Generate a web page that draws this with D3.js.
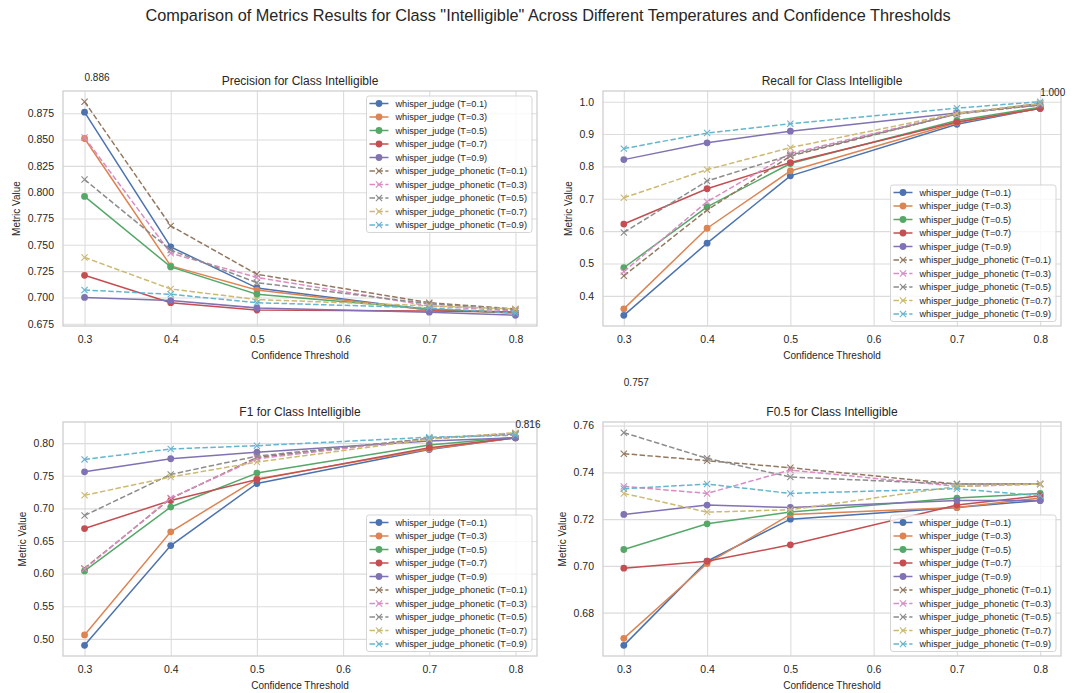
<!DOCTYPE html>
<html>
<head>
<meta charset="utf-8">
<script src="https://cdn.jsdelivr.net/npm/d3@7"></script>
<style>
  body { margin: 0; background: white; }
  svg text { font-family: "Liberation Sans", Arial, sans-serif; fill: #262626; }
</style>
</head>
<body>
<svg id="chart"></svg>
<script>
// Confidence thresholds on the x axis
var thresholds = [0.3, 0.4, 0.5, 0.7, 0.8];
var xTicks = [0.3, 0.4, 0.5, 0.6, 0.7, 0.8];

var seriesNames = [
    "whisper_judge (T=0.1)", "whisper_judge (T=0.3)", "whisper_judge (T=0.5)",
    "whisper_judge (T=0.7)", "whisper_judge (T=0.9)",
    "whisper_judge_phonetic (T=0.1)", "whisper_judge_phonetic (T=0.3)", "whisper_judge_phonetic (T=0.5)",
    "whisper_judge_phonetic (T=0.7)", "whisper_judge_phonetic (T=0.9)"
];

// one row per series, one value per threshold
var precision = [
    [0.876, 0.748, 0.709, 0.688, 0.686],
    [0.851, 0.730, 0.707, 0.688, 0.686],
    [0.796, 0.729, 0.703, 0.689, 0.685],
    [0.721, 0.695, 0.688, 0.687, 0.686],
    [0.700, 0.697, 0.690, 0.686, 0.683],
    [0.886, 0.768, 0.722, 0.695, 0.689],
    [0.852, 0.742, 0.719, 0.692, 0.687],
    [0.812, 0.745, 0.714, 0.694, 0.688],
    [0.738, 0.708, 0.698, 0.692, 0.689],
    [0.707, 0.703, 0.695, 0.690, 0.685]
];
var recall = [
    [0.340, 0.563, 0.771, 0.930, 0.980],
    [0.360, 0.609, 0.786, 0.935, 0.980],
    [0.487, 0.675, 0.809, 0.942, 0.983],
    [0.622, 0.731, 0.812, 0.937, 0.979],
    [0.821, 0.873, 0.909, 0.965, 0.990],
    [0.462, 0.665, 0.832, 0.962, 0.990],
    [0.475, 0.691, 0.840, 0.963, 0.993],
    [0.596, 0.755, 0.835, 0.962, 0.995],
    [0.703, 0.790, 0.858, 0.964, 0.995],
    [0.855, 0.903, 0.932, 0.980, 1.000]
];
var f1 = [
    [0.490, 0.643, 0.738, 0.790, 0.808],
    [0.506, 0.664, 0.745, 0.791, 0.808],
    [0.604, 0.702, 0.754, 0.797, 0.809],
    [0.669, 0.712, 0.744, 0.793, 0.808],
    [0.756, 0.776, 0.786, 0.803, 0.808],
    [0.608, 0.715, 0.778, 0.807, 0.815],
    [0.607, 0.716, 0.776, 0.807, 0.814],
    [0.689, 0.752, 0.780, 0.807, 0.814],
    [0.720, 0.748, 0.771, 0.806, 0.816],
    [0.775, 0.791, 0.796, 0.809, 0.812]
];
var f05 = [
    [0.666, 0.702, 0.720, 0.725, 0.728],
    [0.669, 0.701, 0.722, 0.725, 0.729],
    [0.707, 0.718, 0.723, 0.729, 0.731],
    [0.699, 0.702, 0.709, 0.726, 0.730],
    [0.722, 0.726, 0.725, 0.728, 0.728],
    [0.748, 0.745, 0.742, 0.735, 0.735],
    [0.734, 0.731, 0.741, 0.734, 0.735],
    [0.757, 0.746, 0.738, 0.735, 0.735],
    [0.731, 0.723, 0.724, 0.734, 0.735],
    [0.733, 0.735, 0.731, 0.733, 0.730]
];

// y tick values per panel
var precisionTicks = [0.675, 0.700, 0.725, 0.750, 0.775, 0.800, 0.825, 0.850, 0.875];
var recallTicks = [0.4, 0.5, 0.6, 0.7, 0.8, 0.9, 1.0];
var f1Ticks = [0.50, 0.55, 0.60, 0.65, 0.70, 0.75, 0.80];
var f05Ticks = [0.68, 0.70, 0.72, 0.74, 0.76];

// seaborn "deep" palette
var colors = ["#4C72B0", "#DD8452", "#55A868", "#C44E52", "#8172B3",
              "#937860", "#DA8BC3", "#8C8C8C", "#CCB974", "#64B5CD"];

var W = 1078, H = 693;
var svg = d3.select("#chart").attr("width", W).attr("height", H);
svg.append("rect").attr("width", W).attr("height", H).attr("fill", "white");

svg.append("text")
    .attr("x", 548).attr("y", 21)
    .attr("text-anchor", "middle")
    .style("font-size", "16.3px")
    .text('Comparison of Metrics Results for Class "Intelligible" Across Different Temperatures and Confidence Thresholds');

var panels = [
    { title: "Precision for Class Intelligible", values: precision, ticks: precisionTicks, fmt: ".3f",
      left: 63, right: 537, top: 91, bottom: 326, legend: "upper", annDy: -20.5 },
    { title: "Recall for Class Intelligible", values: recall, ticks: recallTicks, fmt: ".1f",
      left: 603, right: 1061, top: 91, bottom: 326, legend: "lower", annDy: -6 },
    { title: "F1 for Class Intelligible", values: f1, ticks: f1Ticks, fmt: ".2f",
      left: 63, right: 537, top: 422, bottom: 656, legend: "lower", annDy: -4.5 },
    { title: "F0.5 for Class Intelligible", values: f05, ticks: f05Ticks, fmt: ".2f",
      left: 603, right: 1061, top: 422, bottom: 656, legend: "lower", annDy: -46.5 }
];

function drawMarker(g, i, cx, cy) {
    if (i < 5) {
        g.append("circle").attr("cx", cx).attr("cy", cy).attr("r", 3.4).attr("fill", colors[i]);
    } else {
        var s = 3.1;
        g.append("path")
            .attr("d", "M" + (cx - s) + "," + (cy - s) + "L" + (cx + s) + "," + (cy + s) +
                       "M" + (cx - s) + "," + (cy + s) + "L" + (cx + s) + "," + (cy - s))
            .attr("stroke", colors[i]).attr("stroke-width", 1.1).attr("fill", "none");
    }
}

function drawPanel(p) {
    var h = p.bottom - p.top, w = p.right - p.left;
    var x = d3.scaleLinear().domain([0.275, 0.825]).range([p.left, p.right]);
    var ext = d3.extent(p.values.flat());
    var pad = (ext[1] - ext[0]) * 0.05;
    var y = d3.scaleLinear().domain([ext[0] - pad, ext[1] + pad]).range([p.bottom, p.top]);

    var g = svg.append("g");

    // grid lines
    var gx = g.append("g")
        .attr("transform", "translate(0," + p.bottom + ")")
        .call(d3.axisBottom(x).tickValues(xTicks).tickSize(-h).tickFormat(""));
    var gy = g.append("g")
        .attr("transform", "translate(" + p.left + ",0)")
        .call(d3.axisLeft(y).tickValues(p.ticks).tickSize(-w).tickFormat(""));
    [gx, gy].forEach(function (a) {
        a.select(".domain").remove();
        a.selectAll("line").attr("stroke", "#dcdcdc").attr("stroke-width", 1.1);
    });

    // frame
    g.append("rect")
        .attr("x", p.left).attr("y", p.top).attr("width", w).attr("height", h)
        .attr("fill", "none").attr("stroke", "#cfcfcf").attr("stroke-width", 1.3);

    // tick labels
    var ax = g.append("g")
        .attr("transform", "translate(0," + p.bottom + ")")
        .call(d3.axisBottom(x).tickValues(xTicks).tickSize(0).tickPadding(9.5).tickFormat(d3.format(".1f")));
    var ay = g.append("g")
        .attr("transform", "translate(" + p.left + ",0)")
        .call(d3.axisLeft(y).tickValues(p.ticks).tickSize(0).tickPadding(9).tickFormat(d3.format(p.fmt)));
    [ax, ay].forEach(function (a) {
        a.select(".domain").remove();
        a.selectAll("text").attr("fill", "#262626").style("font-size", "10.5px")
            .style("font-family", '"Liberation Sans", Arial, sans-serif');
    });

    // title and axis labels
    g.append("text")
        .attr("x", (p.left + p.right) / 2).attr("y", p.top - 6)
        .attr("text-anchor", "middle").style("font-size", "12px")
        .text(p.title);
    g.append("text")
        .attr("x", (p.left + p.right) / 2).attr("y", p.bottom + 32.5)
        .attr("text-anchor", "middle").style("font-size", "10px")
        .text("Confidence Threshold");
    var tickW = d3.max(ay.selectAll("text").nodes(), function (n) { return n.getComputedTextLength(); });
    var lx = p.left - 9 - tickW - 11;
    g.append("text")
        .attr("transform", "translate(" + lx + "," + ((p.top + p.bottom) / 2) + ") rotate(-90)")
        .attr("text-anchor", "middle").attr("dy", "0.35em").style("font-size", "10px")
        .text("Metric Value");

    // series
    var line = d3.line()
        .x(function (d, j) { return x(thresholds[j]); })
        .y(function (d) { return y(d); });
    p.values.forEach(function (vals, i) {
        var sg = g.append("g");
        sg.append("path")
            .attr("d", line(vals))
            .attr("fill", "none")
            .attr("stroke", colors[i])
            .attr("stroke-width", 1.5)
            .attr("stroke-dasharray", i < 5 ? null : "5.5,2.4");
        vals.forEach(function (v, j) { drawMarker(sg, i, x(thresholds[j]), y(v)); });
    });

    // max annotation
    var best = { v: -1, t: 0 };
    p.values.forEach(function (vals) {
        vals.forEach(function (v, j) { if (v > best.v) best = { v: v, t: thresholds[j] }; });
    });
    g.append("text")
        .attr("x", x(best.t)).attr("y", y(best.v) + p.annDy)
        .style("font-size", "10px")
        .text(d3.format(".3f")(best.v));

    // legend
    var lg = g.append("g");
    var rowH = 13.5;
    var texts = seriesNames.map(function (name, i) {
        return lg.append("text").attr("x", 29).attr("y", 7.5 + i * rowH).attr("dy", "0.35em")
            .style("font-size", "9.2px").text(name);
    });
    var textW = d3.max(texts, function (t) { return t.node().getComputedTextLength(); });
    var bw = 29 + textW + 5, bh = 9 * rowH + 15;
    lg.insert("rect", ":first-child")
        .attr("width", bw).attr("height", bh).attr("rx", 2.5)
        .attr("fill", "white").attr("fill-opacity", 0.8)
        .attr("stroke", "#d5d5d5").attr("stroke-width", 1);
    seriesNames.forEach(function (name, i) {
        var cy = 7.5 + i * rowH;
        lg.append("line")
            .attr("x1", 3).attr("x2", 22).attr("y1", cy).attr("y2", cy)
            .attr("stroke", colors[i]).attr("stroke-width", 1.5)
            .attr("stroke-dasharray", i < 5 ? null : "5.5,2.4");
        drawMarker(lg, i, 12.5, cy);
    });
    var lxPos = p.right - 5 - bw;
    var lyPos = p.legend === "upper" ? p.top + 5 : p.bottom - 4.5 - bh;
    lg.attr("transform", "translate(" + lxPos + "," + lyPos + ")");
}

panels.forEach(drawPanel);
</script>
</body>
</html>
